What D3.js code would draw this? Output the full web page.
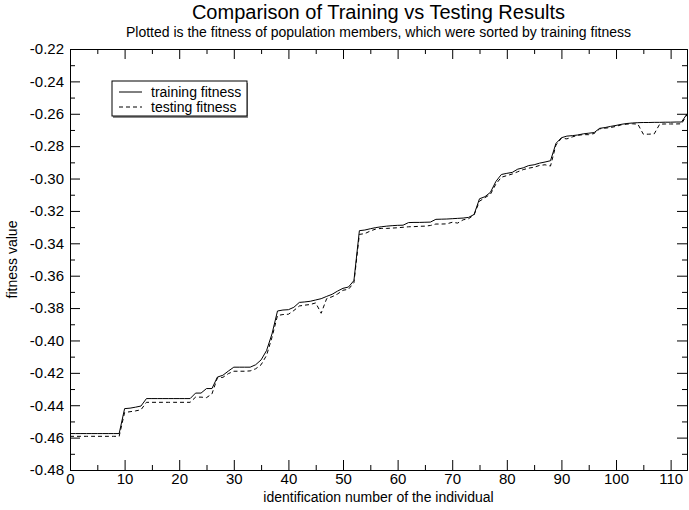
<!DOCTYPE html>
<html>
<head>
<meta charset="utf-8">
<script src="https://cdn.jsdelivr.net/npm/d3@7"></script>
<style>
  body { margin: 0; background: #fff; }
  svg { display: block; font-family: "Liberation Sans", Arial, sans-serif; }
  .axis path, .axis line { stroke: #000; stroke-width: 1; }
  .axis text { fill: #000; font-size: 15px; }
</style>
</head>
<body>
<script>
// individuals 0..113, sorted by training fitness
var training = [
  -0.4575, -0.4575, -0.4575, -0.4575, -0.4575, -0.4575, -0.4575, -0.4575, -0.4575, -0.4575,
  -0.4421, -0.4418, -0.4412, -0.4405, -0.4359, -0.4359, -0.4359, -0.4359, -0.4359, -0.4359,
  -0.4359, -0.4359, -0.4359, -0.4325, -0.4325, -0.4297, -0.4297, -0.4226, -0.4215, -0.4189,
  -0.4165, -0.4165, -0.4165, -0.4165, -0.4150, -0.4120, -0.4062, -0.3959, -0.3818, -0.3812,
  -0.3810, -0.3795, -0.3765, -0.3762, -0.3758, -0.3750, -0.3742, -0.3728, -0.3715, -0.3695,
  -0.3678, -0.3670, -0.3630, -0.3322, -0.3318, -0.3310, -0.3303, -0.3298, -0.3294, -0.3291,
  -0.3289, -0.3288, -0.3272, -0.3271, -0.3271, -0.3270, -0.3269, -0.3252, -0.3251, -0.3250,
  -0.3248, -0.3246, -0.3244, -0.3240, -0.3222, -0.3125, -0.3112, -0.3085, -0.3018, -0.2975,
  -0.2968, -0.2962, -0.2942, -0.2934, -0.2920, -0.2915, -0.2905, -0.2898, -0.2890, -0.2783,
  -0.2748, -0.2738, -0.2735, -0.2731, -0.2724, -0.2720, -0.2716, -0.2690, -0.2685, -0.2678,
  -0.2672, -0.2665, -0.2660, -0.2657, -0.2655, -0.2654, -0.2654, -0.2653, -0.2653, -0.2652,
  -0.2652, -0.2651, -0.2651, -0.2601
];
var testing = [
  -0.4592, -0.4592, -0.4592, -0.4592, -0.4592, -0.4592, -0.4592, -0.4592, -0.4592, -0.4592,
  -0.4445, -0.4440, -0.4435, -0.4428, -0.4382, -0.4382, -0.4382, -0.4382, -0.4382, -0.4382,
  -0.4382, -0.4382, -0.4382, -0.4350, -0.4350, -0.4353, -0.4330, -0.4230, -0.4228, -0.4205,
  -0.4190, -0.4190, -0.4190, -0.4188, -0.4175, -0.4150, -0.4092, -0.3980, -0.3846, -0.3840,
  -0.3838, -0.3815, -0.3787, -0.3782, -0.3778, -0.3768, -0.3832, -0.3742, -0.3730, -0.3713,
  -0.3690, -0.3684, -0.3643, -0.3345, -0.3340, -0.3324, -0.3312, -0.3308, -0.3308, -0.3306,
  -0.3304, -0.3301, -0.3298, -0.3297, -0.3295, -0.3294, -0.3290, -0.3281, -0.3281, -0.3280,
  -0.3270, -0.3275, -0.3255, -0.3248, -0.3225, -0.3140, -0.3118, -0.3097, -0.3034, -0.2992,
  -0.2982, -0.2972, -0.2958, -0.2945, -0.2936, -0.2930, -0.2919, -0.2915, -0.2923, -0.2793,
  -0.2751, -0.2755, -0.2743, -0.2733, -0.2729, -0.2729, -0.2722, -0.2693, -0.2689, -0.2685,
  -0.2678, -0.2668, -0.2664, -0.2662, -0.2664, -0.2726, -0.2726, -0.2724, -0.2664, -0.2663,
  -0.2663, -0.2663, -0.2662, -0.2605
];
var xTicks = [0, 10, 20, 30, 40, 50, 60, 70, 80, 90, 100, 110];
var yTicks = [-0.48, -0.46, -0.44, -0.42, -0.40, -0.38, -0.36, -0.34, -0.32, -0.30, -0.28, -0.26, -0.24, -0.22];
var legendLabels = ["training fitness", "testing fitness"];

var W = 689, H = 510;
var mLeft = 70, mRight = 687, mTop = 49, mBottom = 470;

var svg = d3.select("body").append("svg")
    .attr("width", W)
    .attr("height", H);

var x = d3.scaleLinear().domain([0, 113]).range([mLeft, mRight]);
var y = d3.scaleLinear().domain([-0.48, -0.22]).range([mBottom, mTop]);

var xMinor = d3.range(5, 113, 10);
var yMinor = d3.range(-0.47, -0.22, 0.02);

/* ==== axes, ticks point inward on all four sides ==== */
function drawAxis(axis, tx, ty, cls) {
  svg.append("g")
      .attr("class", "axis " + cls)
      .attr("transform", "translate(" + tx + "," + ty + ")")
      .call(axis.tickSizeOuter(0));
}

drawAxis(d3.axisBottom(x).tickValues(xTicks).tickSize(-10).tickPadding(3)
    .tickFormat(d3.format("d")), 0, mBottom, "xb");
drawAxis(d3.axisBottom(x).tickValues(xMinor).tickSize(-5).tickFormat(""), 0, mBottom, "xbm");
drawAxis(d3.axisTop(x).tickValues(xTicks).tickSize(-10).tickFormat(""), 0, mTop, "xt");
drawAxis(d3.axisTop(x).tickValues(xMinor).tickSize(-5).tickFormat(""), 0, mTop, "xtm");

drawAxis(d3.axisLeft(y).tickValues(yTicks).tickSize(-10).tickPadding(6)
    .tickFormat(d3.format(".2f")), mLeft, 0, "yl");
drawAxis(d3.axisLeft(y).tickValues(yMinor).tickSize(-5).tickFormat(""), mLeft, 0, "ylm");
drawAxis(d3.axisRight(y).tickValues(yTicks).tickSize(-10).tickFormat(""), mRight, 0, "yr");
drawAxis(d3.axisRight(y).tickValues(yMinor).tickSize(-5).tickFormat(""), mRight, 0, "yrm");

// d3 prints a unicode minus, the reference uses a hyphen
svg.selectAll(".yl text").text(function(d) { return d3.format(".2f")(d).replace("\u2212", "-"); });

/* ==== the two series ==== */
var line = d3.line()
    .x(function(d, i) { return x(i); })
    .y(function(d) { return y(d); });

svg.append("path")
    .datum(testing)
    .attr("fill", "none")
    .attr("stroke", "#000")
    .attr("stroke-width", 1)
    .attr("stroke-dasharray", "4,3")
    .attr("d", line);

svg.append("path")
    .datum(training)
    .attr("fill", "none")
    .attr("stroke", "#000")
    .attr("stroke-width", 1)
    .attr("d", line);

/* ==== titles ==== */
svg.append("text")
    .attr("x", (mLeft + mRight) / 2)
    .attr("y", 19)
    .attr("text-anchor", "middle")
    .style("font-size", "20px")
    .text("Comparison of Training vs Testing Results");

svg.append("text")
    .attr("x", (mLeft + mRight) / 2)
    .attr("y", 37)
    .attr("text-anchor", "middle")
    .style("font-size", "14px")
    .text("Plotted is the fitness of population members, which were sorted by training fitness");

svg.append("text")
    .attr("x", (mLeft + mRight) / 2)
    .attr("y", 502)
    .attr("text-anchor", "middle")
    .style("font-size", "14px")
    .text("identification number of the individual");

svg.append("text")
    .attr("transform", "translate(17," + ((mTop + mBottom) / 2) + ") rotate(-90)")
    .attr("text-anchor", "middle")
    .style("font-size", "14px")
    .text("fitness value");

/* ==== legend ==== */
var lg = svg.append("g").attr("transform", "translate(112,81)");
lg.append("rect")
    .attr("x", 1).attr("y", 2)
    .attr("width", 135).attr("height", 35)
    .attr("fill", "#888");
lg.append("rect")
    .attr("width", 135).attr("height", 35)
    .attr("fill", "#fff")
    .attr("stroke", "#000");

legendLabels.forEach(function(lbl, i) {
  var ly = 11 + i * 15;
  lg.append("line")
      .attr("x1", 7).attr("x2", 30)
      .attr("y1", ly).attr("y2", ly)
      .attr("stroke", "#000")
      .attr("stroke-dasharray", i === 1 ? "4,3" : null);
  lg.append("text")
      .attr("x", 39).attr("y", ly + 5)
      .style("font-size", "14px")
      .text(lbl);
});
</script>
</body>
</html>
